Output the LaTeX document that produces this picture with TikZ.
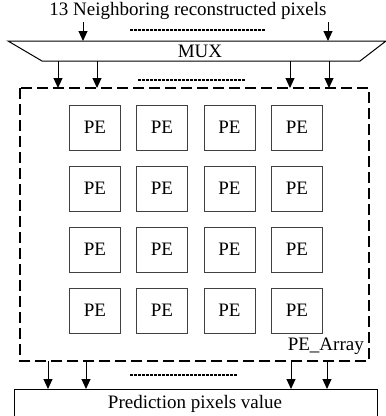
\documentclass[tikz,border=0pt]{standalone}
\usepackage{fontspec}
\setmainfont{Liberation Serif}
\usetikzlibrary{arrows.meta}
\begin{document}
\begin{tikzpicture}[x=1pt,y=-1pt,
  pebox/.style={draw=black!75,line width=1pt,minimum width=51pt,minimum height=45pt,inner sep=0pt,font=\fontsize{19}{19}\selectfont},
  arr/.style={-{Triangle[length=10pt,width=9pt]},line width=1pt},
  dots/.style={dash pattern=on 2.5pt off 1.5pt,line width=1.1pt},
  txt/.style={font=\fontsize{19}{19}\selectfont,inner sep=0pt}]
\clip (0,0) rectangle (386,416);
\useasboundingbox (0,0) rectangle (386,416);
% title
\node[txt] (title) at (188,11) {13 Neighboring reconstructed pixels};
% MUX
\draw[line width=1pt] (8,41) -- (386,41) -- (360,61) -- (42,61) -- cycle;
\node[txt] (mux) at (200,51) {MUX};
\coordinate (mt1) at (83,41); \coordinate (mt2) at (328,41);
\coordinate (it1) at (83,22); \coordinate (it2) at (328,22);
\draw[arr] (it1) -- (mt1);
\draw[arr] (it2) -- (mt2);
\draw[dots] (130,30) -- (265,30);
% MUX outputs
\foreach \x [count=\i] in {58,97,290,329}{
  \coordinate (mo\i) at (\x,61);
  \coordinate (ai\i) at (\x,88);
  \draw[arr] (mo\i) -- (ai\i);
}
\draw[dots] (138,80) -- (245,80);
% PE array
\draw[dash pattern=on 11pt off 5pt,line width=1.4pt] (20,88) rectangle (369,361);
\node[txt,anchor=south east] (arrlbl) at (364,355) {PE\_Array};
\foreach \r [count=\j] in {127.5,188.5,249.5,310.5}{
  \foreach \x [count=\i] in {95,162,229.5,297}{
    \node[pebox] (pe\j\i) at (\x,\r) {PE};
  }
}
% outputs
\foreach \x [count=\i] in {48,86,291,327}{
  \coordinate (ao\i) at (\x,361);
  \coordinate (bi\i) at (\x,389);
  \draw[arr] (ao\i) -- (bi\i);
}
\draw[dots] (130,375) -- (237,375);
\draw[line width=1pt] (14,420) -- (14,389) -- (377,389) -- (377,420);
\node[txt] (pred) at (195,404) {Prediction pixels value};
\end{tikzpicture}
\end{document}
